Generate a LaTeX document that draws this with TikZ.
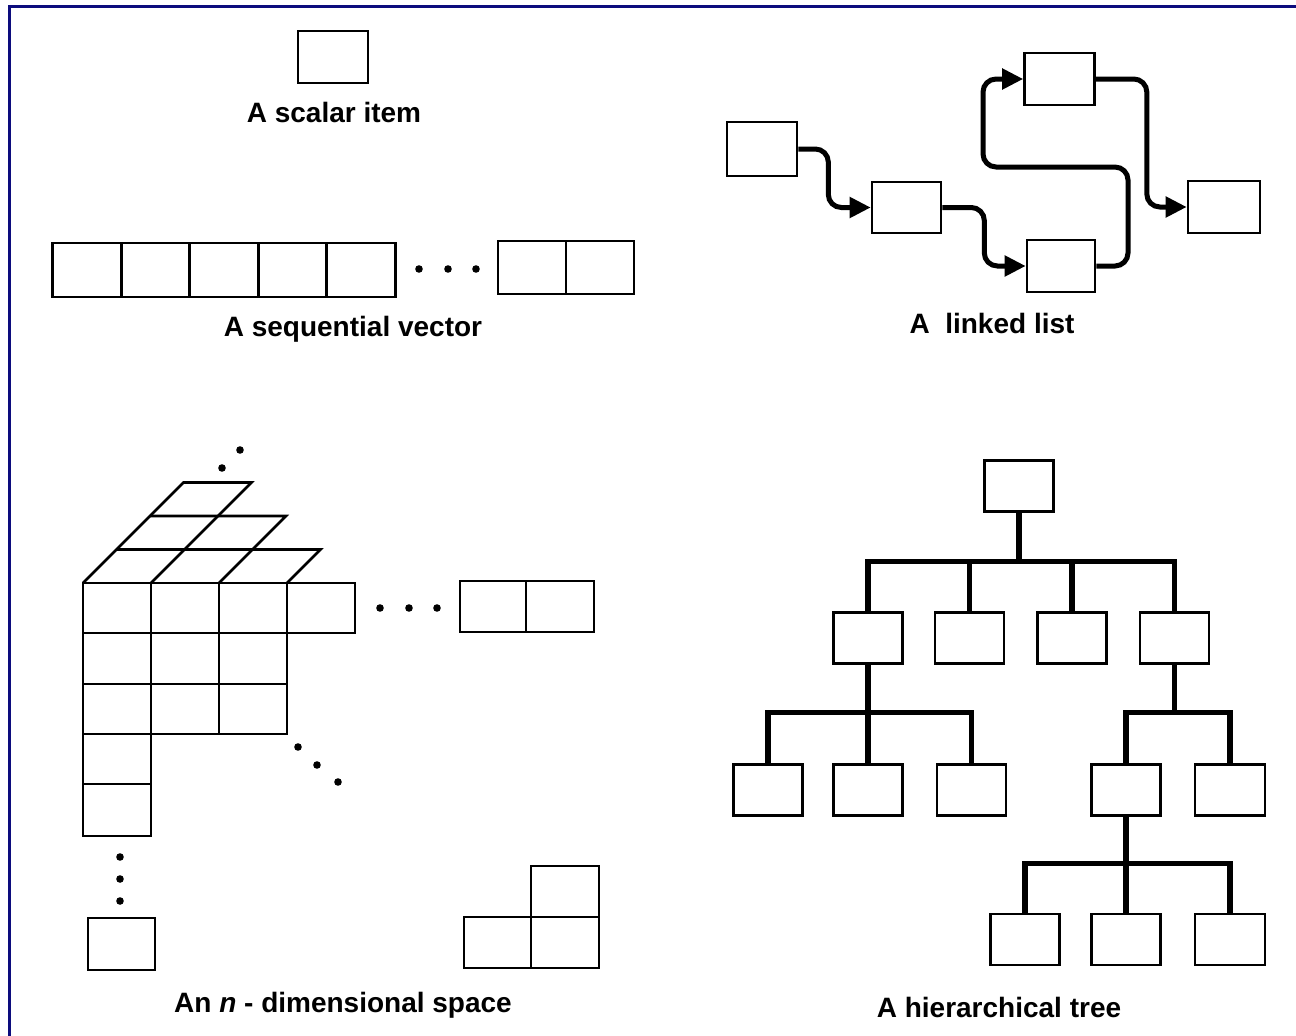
\documentclass[tikz,border=0pt]{standalone}
\usepackage{fontspec}
\setmainfont{Liberation Sans}
\usetikzlibrary{arrows.meta,calc}
\definecolor{framecol}{RGB}{12,12,125}
\tikzset{
 box/.style={draw, rectangle, line width=2.6pt, minimum width=69pt, minimum height=51pt, inner sep=0pt},
 cell/.style={box, minimum width=68.5pt, minimum height=54pt},
 link/.style={line width=5pt, rounded corners=13pt, -{Triangle[length=21pt,width=20pt]}},
 treeline/.style={line width=5.2pt, line join=miter},
 gridline/.style={line width=2.6pt, line join=miter},
 dotmark/.style={fill=black},
 lbl/.style={font=\fontsize{28}{32}\selectfont\bfseries, anchor=base, inner sep=0pt},
}
\begin{document}
\begin{tikzpicture}[x=1pt,y=-1pt]
\useasboundingbox (0,0) rectangle (1296,1036);
\fill[white] (0,0) rectangle (1296,1036);
\draw[framecol, line width=3.5pt] (9.5,1040) -- (9.5,6.5) -- (1300,6.5);

% ---------- scalar item ----------
\node[box, minimum width=70pt, minimum height=52pt] (scalar) at (333,57) {};
\node[lbl] (lscalar) at (334,122) {A scalar item};

% ---------- sequential vector ----------
\node[cell] (v1) at (87,270) {};
\node[cell] (v2) at (155.5,270) {};
\node[cell] (v3) at (224,270) {};
\node[cell] (v4) at (292.5,270) {};
\node[cell] (v5) at (361,270) {};
\node[cell, minimum width=68pt, minimum height=53pt] (v6) at (532,267.5) {};
\node[cell, minimum width=68pt, minimum height=53pt] (v7) at (600,267.5) {};
\foreach \x in {419,448,476} \fill[dotmark] (\x,269) circle (3.8pt);
\node[lbl] (lvector) at (353,336) {A sequential vector};

% ---------- linked list ----------
\node[box, minimum width=70pt, minimum height=54pt] (A) at (762,149) {};
\node[box] (B) at (906.5,207.5) {};
\node[box, minimum width=70pt, minimum height=52pt] (C) at (1059.5,79) {};
\node[box, minimum width=68pt, minimum height=52pt] (D) at (1061,266) {};
\node[box, minimum width=72pt, minimum height=52pt] (E) at (1224,207) {};
\coordinate (m1) at (1128,167);
\coordinate (m2) at (983,167);
\draw[link] (A.east) -- ++(30,0) |- (B.west);
\draw[link] (B.east) -- ++(42,0) |- (D.west);
\draw[link] (D.east) -| (m1) -- (m2) |- (C.west);
\draw[link] (C.east) -- ++(51,0) |- (E.west);
\node[lbl] (llist) at (992,333) {A\ \ linked list};

% ---------- n-dimensional space ----------
\draw[gridline] (83,583) -- (355,583) -- (355,633) -- (287,633) -- (287,734) -- (151,734) -- (151,836) -- (83,836) -- cycle;
\draw[gridline] (151,583) -- (151,734);
\draw[gridline] (219,583) -- (219,734);
\draw[gridline] (287,583) -- (287,633);
\draw[gridline] (83,633) -- (287,633);
\draw[gridline] (83,684) -- (287,684);
\draw[gridline] (83,734) -- (151,734);
\draw[gridline] (83,784) -- (151,784);
% perspective top
\draw[gridline] (83,583) -- (183.5,482.5) -- (251.5,482.5) -- (151,583);
\draw[gridline] (219,583) -- (286,516) -- (150,516);
\draw[gridline] (287,583) -- (320.5,549.5) -- (116.5,549.5);
% far boxes
\draw[gridline] (460,581) rectangle (526,632);
\draw[gridline] (526,581) rectangle (594,632);
\draw[gridline] (88,918) rectangle (155,970);
\draw[gridline] (531,866) rectangle (599,917);
\draw[gridline] (464,917) rectangle (531,968);
\draw[gridline] (531,917) rectangle (599,968);
% dots
\foreach \x in {380,409,437} \fill[dotmark] (\x,608) circle (3.8pt);
\foreach \p in {(298,747),(317,765),(338,782)} \fill[dotmark] \p circle (3.8pt);
\foreach \y in {857,879,901} \fill[dotmark] (120,\y) circle (3.8pt);
\foreach \p in {(222,468),(240,450)} \fill[dotmark] \p circle (3.8pt);
\node[lbl] (lspace) at (343,1012) {An \textit{n} - dimensional space};

% ---------- hierarchical tree ----------
\node[box] (root) at (1019,486) {};
\node[box] (c1) at (868,638) {};
\node[box] (c2) at (969.5,638) {};
\node[box] (c3) at (1072,638) {};
\node[box] (c4) at (1174.5,638) {};
\node[box] (g1) at (768,790) {};
\node[box] (g2) at (868,790) {};
\node[box] (g3) at (971.5,790) {};
\node[box] (g4) at (1126,790) {};
\node[box, minimum width=70pt] (g5) at (1230,790) {};
\node[box] (h1) at (1025,939.5) {};
\node[box] (h2) at (1126,939.5) {};
\node[box, minimum width=70pt] (h3) at (1230,939.5) {};

\coordinate (j0) at ($(root.south)+(0,49)$);
\draw[treeline] (root.south) -- (j0);
\draw[treeline] (c1.north) |- (j0) -| (c4.north);
\draw[treeline] (c2.north) -- (c2.north |- j0);
\draw[treeline] (c3.north) -- (c3.north |- j0);

\coordinate (j1) at ($(c1.south)+(0,48)$);
\draw[treeline] (c1.south) -- (g2.north);
\draw[treeline] (g1.north) |- (j1) -| (g3.north);

\coordinate (j2) at ($(c4.south)+(0,48)$);
\draw[treeline] (c4.south) -- (j2);
\draw[treeline] (g4.north) |- (j2) -| (g5.north);

\coordinate (j3) at ($(g4.south)+(0,47)$);
\draw[treeline] (g4.south) -- (h2.north);
\draw[treeline] (h1.north) |- (j3) -| (h3.north);

\node[lbl] (ltree) at (999,1017) {A hierarchical tree};
\end{tikzpicture}
\end{document}
